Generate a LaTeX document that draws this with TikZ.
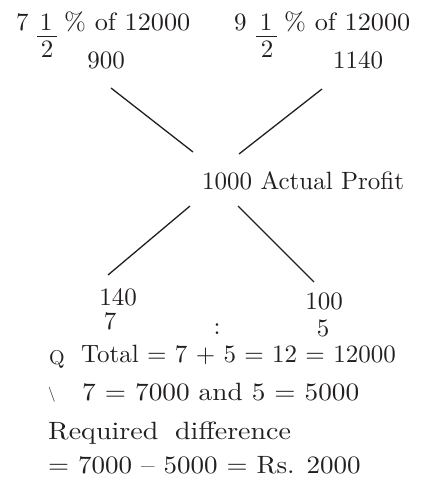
\documentclass[tikz,border=0pt]{standalone}
\usepackage{fontspec}
\setmainfont{lmroman10-regular.otf}
\usetikzlibrary{calc}
\definecolor{ink}{RGB}{35,31,32}
\begin{document}
\begin{tikzpicture}[x=1pt,y=-1pt,
  txt/.style={inner sep=0pt, font=\fontsize{25}{28}\selectfont, text=ink},
  ln/.style={line width=1.3pt, draw=ink}]
\useasboundingbox[fill=white] (0,0) rectangle (434,487);
% top row
\node[txt, anchor=base west] (a7) at (16,31) {7};
\node[txt, anchor=base] (an) at (46,31) {1};
\node[txt, anchor=base] (ad) at (47,57) {2};
\coordinate (ab1) at (37,36);
\coordinate (ab2) at (57,36);
\draw[ink, line width=0.8pt] (ab1) -- (ab2);
\node[txt, anchor=base west] (at) at (64,31) {\scalebox{1.05}[1]{\% of 12000}};
\node[txt, anchor=base west] (b9) at (234,31) {9};
\node[txt, anchor=base] (bn) at (266,31) {1};
\node[txt, anchor=base] (bd) at (267,57) {2};
\coordinate (bb1) at (256,36);
\coordinate (bb2) at (277,36);
\draw[ink, line width=0.8pt] (bb1) -- (bb2);
\node[txt, anchor=base west] (bt) at (284,31) {\scalebox{1.05}[1]{\% of 12000}};
\node[txt, anchor=base] (n900) at (106,68) {900};
\node[txt, anchor=base] (n1140) at (358,68) {1140};
% centre
\node[txt, anchor=base west] (mid) at (202,189) {1000 Actual Profit};
% lower
\node[txt, anchor=base] (n140) at (118,305) {140};
\node[txt, anchor=base] (r7) at (110,329) {7};
\node[txt, anchor=base] (n100) at (324,309) {100};
\node[txt, anchor=base] (colon) at (217,334) {:};
\node[txt, anchor=base] (r5) at (323,336) {5};
% connectors
\coordinate (l1a) at (111,88);  \coordinate (l1b) at (193,152);
\coordinate (l2a) at (322,89);  \coordinate (l2b) at (239,154);
\coordinate (l3a) at (190,206); \coordinate (l3b) at (108,275);
\coordinate (l4a) at (238,206); \coordinate (l4b) at (314,282);
\draw[ln] (l1a) -- (l1b);
\draw[ln] (l2a) -- (l2b);
\draw[ln] (l3a) -- (l3b);
\draw[ln] (l4a) -- (l4b);
% text lines
\node[txt, anchor=base west, font=\fontsize{20}{22}\selectfont] (q) at (49,364) {Q};
\node[txt, anchor=base west] (tot) at (81,362) {Total = 7 + 5 = 12 = 12000};
\node[txt, anchor=base west, font=\fontsize{15}{17}\selectfont] (bs) at (48,398) {\textbackslash};
\node[txt, anchor=base west] (res) at (82,400) {\scalebox{1.09}[1]{7 = 7000 and 5 = 5000}};
\node[txt, anchor=base west] (req) at (48,439) {\scalebox{1.12}[1]{Required\hspace{0.6em}difference}};
\node[txt, anchor=base west] (fin) at (48,473) {\scalebox{1.08}[1]{= 7000 -- 5000 = Rs. 2000}};
\end{tikzpicture}
\end{document}
